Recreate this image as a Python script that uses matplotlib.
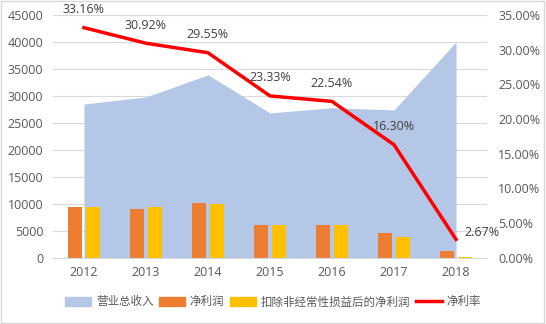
import matplotlib
matplotlib.use("Agg")
import matplotlib.pyplot as plt
import numpy as np
from matplotlib.patches import Rectangle
from matplotlib.lines import Line2D
from matplotlib.patches import Patch

plt.rcParams['font.family'] = ['Open Sans', 'Noto Sans CJK SC', 'DejaVu Sans']

years = ['2012', '2013', '2014', '2015', '2016', '2017', '2018']
revenue = [28500, 29800, 33900, 26850, 27800, 27400, 40000]
net_profit = [9500, 9130, 10100, 6170, 6170, 4560, 1230]
net_profit_deducted = [9370, 9500, 9930, 6040, 6100, 3800, 250]
net_margin = [33.16, 30.92, 29.55, 23.33, 22.54, 16.30, 2.67]

grey = '#595959'
fig = plt.figure(figsize=(5.46, 3.24), dpi=100)
fig.patches.append(Rectangle((0.002, 0.003), 0.995, 0.994, transform=fig.transFigure,
                             fill=False, edgecolor='#D9D9D9', linewidth=1))
ax = fig.add_axes([0.097, 0.204, 0.795, 0.75])
x = np.arange(len(years))
ax.fill_between(x, revenue, 0, color='#B4C7E7', linewidth=0, zorder=1)
w = 0.225
ax.bar(x - 0.145, net_profit, w, color='#ED7D31', zorder=2)
ax.bar(x + 0.145, net_profit_deducted, w, color='#FFC000', zorder=2)
ax.set_xlim(-0.5, len(years) - 0.5)
ax.set_ylim(0, 45000)
ax.set_yticks(np.arange(0, 45001, 5000))
ax.grid(axis='y', color='#D9D9D9', linewidth=0.8, zorder=0)
ax.set_axisbelow(True)
for s in ['top', 'right', 'left']:
    ax.spines[s].set_visible(False)
ax.spines['bottom'].set_color('#D9D9D9')
ax.set_xticks(x)
ax.set_xticklabels(years)
ax.tick_params(axis='both', length=0, labelsize=9, colors=grey, pad=6)
ax.tick_params(axis='y', pad=7)

ax2 = ax.twinx()
ax2.plot(x, net_margin, color='#FF0000', linewidth=2.5, zorder=5)
ax2.set_ylim(0, 35)
ax2.set_yticks(np.arange(0, 35.1, 5))
ax2.set_yticklabels([f'{v:.2f}%' for v in np.arange(0, 35.1, 5)])
for s in ax2.spines.values():
    s.set_visible(False)
ax2.tick_params(axis='y', length=0, labelsize=9, colors=grey, pad=8)
for i, v in enumerate(net_margin):
    if i == len(net_margin) - 1:
        ax2.annotate(f'{v:.2f}%', (i, v), xytext=(6, 5), textcoords='offset points',
                     ha='left', va='center', fontsize=9, color='#404040')
    else:
        ax2.annotate(f'{v:.2f}%', (i, v), xytext=(0, 13), textcoords='offset points',
                     ha='center', va='center', fontsize=9, color='#404040')

handles = [Patch(color='#B4C7E7'), Patch(color='#ED7D31'), Patch(color='#FFC000'),
           Line2D([0], [0], color='#FF0000', linewidth=2.5)]
labels = ['营业总收入', '净利润', '扣除非经常性损益后的净利润', '净利率']
fig.legend(handles, labels, loc='center', bbox_to_anchor=(0.5, 0.068), ncol=4,
           frameon=False, labelcolor=grey, handlelength=2.25,
           handleheight=0.75, handletextpad=0.4, columnspacing=0.5,
           prop={'family': ['Noto Sans CJK SC'], 'size': 8.3})
fig.savefig('out.png', dpi=100)
